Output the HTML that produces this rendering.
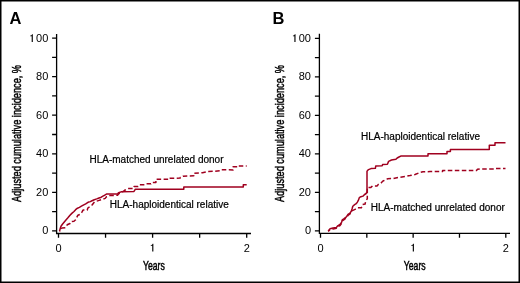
<!DOCTYPE html>
<html><head><meta charset="utf-8">
<style>
html,body{margin:0;padding:0;background:#fff;}
body{width:520px;height:283px;overflow:hidden;}
svg{display:block;}
text{filter:grayscale(1);font-family:"Liberation Sans",sans-serif;fill:#000;}
.t{font-size:11px;}
.a{font-size:10px;stroke:#000;stroke-width:0.22px;}
.c{font-size:13px;stroke:#000;stroke-width:0.5px;}
.yt{font-size:13.5px;}
.p{font-size:16.5px;font-weight:bold;}
.g1{fill:#000;}
.ax{stroke:#000;stroke-width:1.3;fill:none;}
.cv{stroke:#a0001f;stroke-width:1.5;fill:none;stroke-linejoin:round;}
.ds{stroke-dasharray:4.5 2.5;}
</style></head>
<body>
<svg width="520" height="283" viewBox="0 0 520 283">
<rect x="0.75" y="0.75" width="518.5" height="281.5" fill="#fff" stroke="#000" stroke-width="1.5"/>
<text class="p" x="9.6" y="23.8">A</text>
<path class="ax" d="M56.6,34V233.5H251"/>
<path class="ax" d="M52.1,38.1H56.6M52.1,57.38H56.6M52.1,76.66H56.6M52.1,95.94H56.6M52.1,115.22H56.6M52.1,134.5H56.6M52.1,153.78H56.6M52.1,173.06H56.6M52.1,192.34H56.6M52.1,211.62H56.6M52.1,230.9H56.6"/>
<path class="ax" d="M58.5,233.5V237.8M105.55,233.5V237.8M152.6,233.5V237.8M199.65,233.5V237.8M246.7,233.5V237.8"/>
<text class="t" text-anchor="end" x="48.3" y="42">00</text>
<path class="g1" d="M31.68,42.00 L32.83,42.00 L32.83,34.20 L32.06,34.20 C31.90,34.96 31.29,35.40 30.25,35.45 L30.25,36.23 L31.68,36.23 Z"/>
<text class="t" text-anchor="end" x="48.3" y="80">80</text>
<text class="t" text-anchor="end" x="48.3" y="119">60</text>
<text class="t" text-anchor="end" x="48.3" y="157">40</text>
<text class="t" text-anchor="end" x="48.3" y="196">20</text>
<text class="t" text-anchor="end" x="48.3" y="234">0</text>
<text class="t" text-anchor="middle" x="58.5" y="251.5">0</text>
<path class="g1" d="M152.22,251.60 L153.37,251.60 L153.37,243.80 L152.60,243.80 C152.44,244.56 151.83,245.00 150.79,245.06 L150.79,245.82 L152.22,245.82 Z"/>
<text class="t" text-anchor="middle" x="246.7" y="251.5">2</text>
<text class="c" text-anchor="middle" transform="translate(153.9,269.5) scale(0.67,1)">Years</text>
<text class="c yt" text-anchor="middle" transform="translate(21.3,133.5) rotate(-90) scale(0.682,1)">Adjusted cumulative incidence, %</text>
<text class="p" x="272.6" y="23.8">B</text>
<path class="ax" d="M319.4,33.8V233.4H510"/>
<path class="ax" d="M314.9,38.4H319.4M314.9,57.64H319.4M314.9,76.89H319.4M314.9,96.13H319.4M314.9,115.38H319.4M314.9,134.62H319.4M314.9,153.87H319.4M314.9,173.11H319.4M314.9,192.36H319.4M314.9,211.6H319.4M314.9,230.85H319.4"/>
<path class="ax" d="M320.5,233.4V237.7M366.82,233.4V237.7M413.15,233.4V237.7M459.48,233.4V237.7M505.8,233.4V237.7"/>
<text class="t" text-anchor="end" x="311" y="42">00</text>
<path class="g1" d="M294.38,42.00 L295.53,42.00 L295.53,34.20 L294.76,34.20 C294.60,34.96 293.99,35.40 292.95,35.45 L292.95,36.23 L294.38,36.23 Z"/>
<text class="t" text-anchor="end" x="311" y="80">80</text>
<text class="t" text-anchor="end" x="311" y="119">60</text>
<text class="t" text-anchor="end" x="311" y="157">40</text>
<text class="t" text-anchor="end" x="311" y="196">20</text>
<text class="t" text-anchor="end" x="311" y="234">0</text>
<text class="t" text-anchor="middle" x="320.5" y="251.5">0</text>
<path class="g1" d="M412.77,251.60 L413.92,251.60 L413.92,243.80 L413.15,243.80 C412.99,244.56 412.38,245.00 411.34,245.06 L411.34,245.82 L412.77,245.82 Z"/>
<text class="t" text-anchor="middle" x="505.8" y="251.5">2</text>
<text class="c" text-anchor="middle" transform="translate(414.7,269.7) scale(0.67,1)">Years</text>
<text class="c yt" text-anchor="middle" transform="translate(284.4,133.5) rotate(-90) scale(0.682,1)">Adjusted cumulative incidence, %</text>
<text class="a" x="89.5" y="162.5">HLA-matched unrelated donor</text>
<text class="a" x="109.8" y="207.5">HLA-haploidentical relative</text>
<text class="a" x="361" y="140.2">HLA-haploidentical relative</text>
<text class="a" x="370.8" y="210.7">HLA-matched unrelated donor</text>
<path class="cv" d="M59.5,231.3 L60.3,228.2 L61,226.3 L62.4,224.3 L64.9,221.2 L67.9,217.8 L70,215.2 L71.8,213.4 L74,211.5 L75.6,209.7 L77.5,208.2 L79.4,207.4 L81.4,206.2 L83.3,205.1 L85.7,203.9 L88,202.3 L90.3,201.6 L92,200.8 L94.3,199.7 L96.7,198.9 L99,198 L101.3,197.2 L102.9,196.2 L104.4,195.3 L106.4,194.1 L117.8,193.9 L118.5,192.6 L121.7,191.7 L134,191.4 L135.4,189.2 L183.8,189.2 L183.8,187.1 L243.3,187.1 L243.3,184.7 L246.7,184.7"/>
<path class="cv ds" style="stroke-dashoffset:3.94" d="M59.5,231.3 L60.5,229.3 L62,228 L65.6,227.6 L67.2,224.8 L70,223.5 L71.3,221.5 L74,221.2 L75.6,219.8 L77.9,215.2 L80.5,214.2 L82.2,211.7 L83,210.1 L87.2,210.1 L88,207.8 L90.7,206.2 L92.3,204.7 L94.5,201.8 L98.4,200.6 L101.8,199.6 L105.2,198.4 L106.5,196.8 L109.7,195.6 L117.5,195.3 L119,193.5 L121.7,192.6 L124.4,190.5 L126.3,189.3 L128,188.6 L133.5,188.5 L134,186.5 L138,186.4 L139.5,184.8 L145,184.8 L146.5,183.8 L151,183.8 L152,182.4 L155.9,182.4 L155.9,179.2 L170,179.2 L170,178.3 L180.3,178.1 L180.3,177.4 L183,176.2 L193.8,175.7 L193.8,173.3 L202.5,172.7 L208,171.5 L215,171.3 L220,170.8 L221,169.8 L233.1,169.9 L233.1,166.8 L238.6,166.8 L238.6,165.9 L246.7,165.9"/>
<path class="cv" d="M328.2,230.9 L330.1,228.8 L333,228 L336.5,227.4 L337.7,225.8 L340,224.5 L341.7,222.1 L342.3,219.8 L344.1,218.6 L346.4,216.9 L348,214.4 L350,213.1 L351.4,211 L352.1,208.7 L352.8,206.2 L354.9,204.4 L355.6,204.1 L357.2,202.5 L358.3,200.4 L359.3,197.7 L360.9,196.7 L363,196.1 L364.6,194.5 L366.2,193.5 L367,191.4 L367,171.2 L368.5,169.6 L371,168.6 L375.4,168.3 L375.7,166 L382.2,165.7 L382.6,164.6 L387.4,164.2 L388.6,161.4 L391.5,160 L395.9,159.3 L397.2,158 L399,157 L401.2,155.9 L428,155.9 L428,153.8 L447,153.8 L447,151.6 L450.4,151.6 L450.4,149.4 L489.3,149.4 L489.3,145.2 L495,145.2 L495,142.8 L505.5,142.8"/>
<path class="cv ds" style="stroke-dashoffset:2.09" d="M328.2,231.4 L330.1,229.6 L333,228.9 L336.5,228.3 L337.7,226.8 L340,225.5 L341.7,223.2 L342.3,220.9 L344.1,219.6 L346.4,217.8 L348,215.4 L350,214 L351.4,211.8 L352.4,210.6 L355,209.4 L357.2,207.8 L361.4,207.8 L362.5,204.6 L365.1,204.1 L365.7,200.9 L367.3,198.8 L367.3,187.4 L370.9,187.4 L372.5,185.9 L377,185.9 L378.5,184.3 L381,183 L383,181 L385.5,179.8 L387.5,178.8 L393.5,178.5 L400,177.2 L405,176.5 L410,175.6 L415,174.5 L420,172.5 L423,171.8 L430,171.6 L437.7,171.4 L442.6,171.4 L442.6,170.5 L476.5,170.5 L477.5,169.3 L480,168.9 L495.5,168.9 L496,168.4 L505.5,168.4"/>
</svg>
</body></html>
